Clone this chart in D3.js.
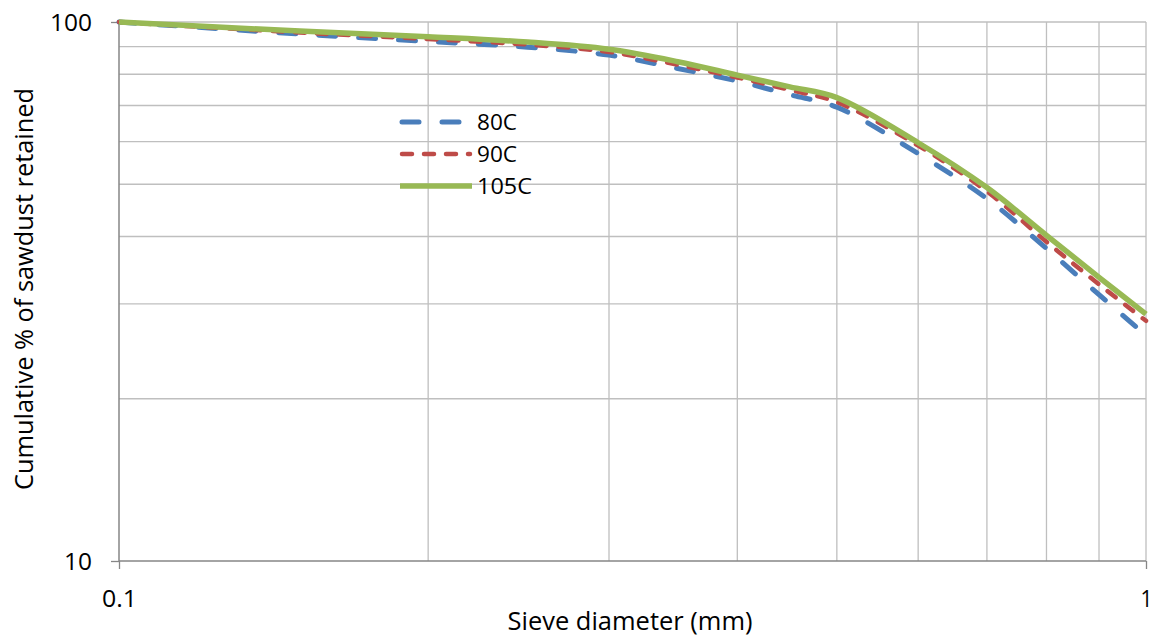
<!DOCTYPE html>
<html>
<head>
<meta charset="utf-8">
<script src="https://cdn.jsdelivr.net/npm/d3@7"></script>
<style>
  body { margin: 0; background: #fff; }
  text { font-family: "Open Sans", Lato, sans-serif; fill: #000; }
</style>
</head>
<body>
<div id="chart"></div>
<script>
// sieve diameters (mm)
var sizes = [0.1, 0.15, 0.2, 0.25, 0.3, 0.35, 0.4, 0.45, 0.5, 0.6, 0.7, 0.8, 0.9, 1.0];
// cumulative % retained
var s80 = [100, 95.0, 92.0, 89.8, 86.8, 82.0, 77.7, 73.3, 69.5, 57.0, 47.0, 38.0, 31.2, 26.2];
var s90 = [100, 95.6, 93.0, 90.8, 88.0, 83.3, 78.9, 74.8, 71.0, 59.0, 48.5, 39.1, 32.6, 27.9];
var s105 = [100, 96.2, 93.9, 91.8, 89.0, 84.4, 79.7, 75.8, 72.4, 59.7, 49.3, 40.2, 33.6, 28.7];
var seriesNames = ["80C", "90C", "105C"];
var xTickLabels = [0.1, 1];
var yTickLabels = [10, 100];
var yGrid = [20, 30, 40, 50, 60, 70, 80, 90, 100];
var xGrid = [0.2, 0.3, 0.4, 0.5, 0.6, 0.7, 0.8, 0.9, 1];

var WIDTH = 1155, HEIGHT = 637;
var LEFT = 119, RIGHT = 1146, TOP = 22, BOTTOM = 561;

var svg = d3.select("#chart").append("svg")
    .attr("width", WIDTH)
    .attr("height", HEIGHT);

var x = d3.scaleLog().domain([0.1, 1]).range([LEFT, RIGHT]);
var y = d3.scaleLog().domain([10, 100]).range([BOTTOM, TOP]);

// gridlines
svg.append("g").selectAll("line")
    .data(yGrid).enter().append("line")
    .attr("x1", LEFT).attr("x2", RIGHT)
    .attr("y1", function (d) { return y(d); })
    .attr("y2", function (d) { return y(d); })
    .attr("stroke", "#bfbfbf").attr("stroke-width", 1.3);
svg.append("g").selectAll("line")
    .data(xGrid).enter().append("line")
    .attr("y1", TOP).attr("y2", BOTTOM)
    .attr("x1", function (d) { return x(d); })
    .attr("x2", function (d) { return x(d); })
    .attr("stroke", "#bfbfbf").attr("stroke-width", 1.3);

// axes
var fmt = d3.format("~g");
var xAxis = d3.axisBottom(x).tickValues(xTickLabels).tickSize(8).tickFormat(fmt);
var yAxis = d3.axisLeft(y).tickValues(yTickLabels).tickSize(8).tickFormat(fmt);

var gx = svg.append("g").attr("transform", "translate(0," + BOTTOM + ")").call(xAxis);
var gy = svg.append("g").attr("transform", "translate(" + LEFT + ",0)").call(yAxis);
[gx, gy].forEach(function (g) {
    g.select(".domain").attr("stroke", "#868686").attr("stroke-width", 1.5);
    g.selectAll(".tick line").attr("stroke", "#868686").attr("stroke-width", 1.3);
    g.selectAll(".tick text").style("font-size", "24px").attr("fill", "#000");
});
gx.select(".domain").attr("d", "M" + LEFT + ",0H" + RIGHT);
gy.select(".domain").attr("d", "M0," + BOTTOM + "V" + TOP);

gx.selectAll(".tick text")
    .attr("y", 46).attr("dy", null)
    .attr("textLength", function (d) { return d === 1 ? 12 : 35; })
    .attr("lengthAdjust", "spacingAndGlyphs");
gy.selectAll(".tick text")
    .attr("x", -27).attr("dy", null)
    .attr("y", 8)
    .attr("textLength", function (d) { return d === 100 ? 42 : 28; })
    .attr("lengthAdjust", "spacingAndGlyphs");

// axis titles
svg.append("text")
    .attr("x", 630).attr("y", 630)
    .attr("text-anchor", "middle")
    .style("font-size", "25px")
    .attr("textLength", 245).attr("lengthAdjust", "spacingAndGlyphs")
    .text("Sieve diameter (mm)");
svg.append("text")
    .attr("transform", "translate(33,289) rotate(-90)")
    .attr("text-anchor", "middle")
    .style("font-size", "25px")
    .attr("textLength", 402).attr("lengthAdjust", "spacingAndGlyphs")
    .text("Cumulative % of sawdust retained");

var styles = [
    {color: "#4a7ebb", dash: "17,23", width: 5},
    {color: "#be4b48", dash: "10,12", width: 4.5},
    {color: "#98b954", dash: null, width: 5.5}
];
var data = [s80, s90, s105];

var line = d3.line()
    .x(function (d, i) { return x(sizes[i]); })
    .y(function (d) { return y(d); })
    .curve(d3.curveCatmullRom.alpha(0.5));

data.forEach(function (vals, k) {
    svg.append("path")
        .datum(vals)
        .attr("d", line)
        .attr("fill", "none")
        .attr("stroke", styles[k].color)
        .attr("stroke-width", styles[k].width)
        .attr("stroke-linecap", styles[k].dash ? "round" : "butt")
        .attr("stroke-linejoin", "round")
        .attr("stroke-dasharray", styles[k].dash);
});

// legend
var legend = svg.append("g");
var legendWidths = [40, 40, 55];
seriesNames.forEach(function (name, k) {
    var ly = 122 + k * 32;
    legend.append("line")
        .attr("x1", styles[k].dash ? 402 : 400).attr("x2", styles[k].dash ? 470 : 472)
        .attr("y1", ly).attr("y2", ly)
        .attr("stroke", styles[k].color)
        .attr("stroke-width", styles[k].width)
        .attr("stroke-linecap", styles[k].dash ? "round" : "butt")
        .attr("stroke-dasharray", styles[k].dash);
    legend.append("text")
        .attr("x", 477).attr("y", ly + 8)
        .style("font-size", "22px")
        .attr("textLength", legendWidths[k]).attr("lengthAdjust", "spacingAndGlyphs")
        .text(name);
});
</script>
</body>
</html>
